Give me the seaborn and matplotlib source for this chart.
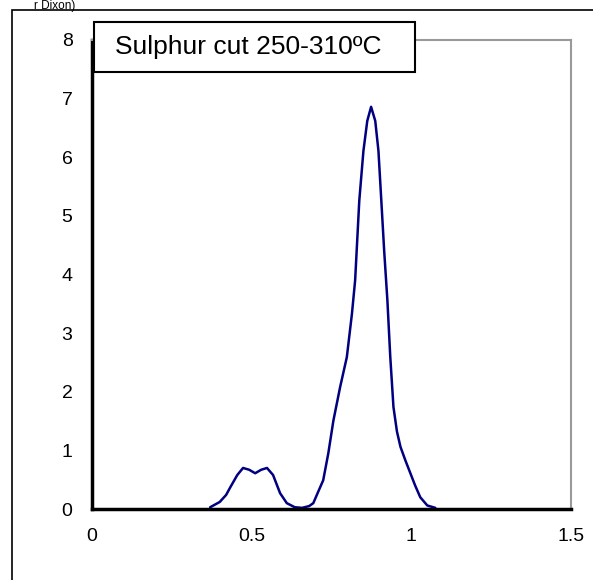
import matplotlib
matplotlib.use("Agg")
import matplotlib.pyplot as plt
import seaborn as sns
import pandas as pd
from matplotlib.patches import Rectangle

# Data
x_vals = [0.37, 0.40, 0.420, 0.433, 0.455, 0.473, 0.492, 0.511, 0.530, 0.548,
          0.567, 0.589, 0.610, 0.635, 0.658, 0.680, 0.693, 0.708, 0.724, 0.740,
          0.756, 0.777, 0.798, 0.814, 0.824, 0.837, 0.850, 0.862, 0.874, 0.887,
          0.897, 0.906, 0.915, 0.925, 0.934, 0.944, 0.955, 0.966, 0.982, 0.997,
          1.012, 1.028, 1.050, 1.075]
y_vals = [0.03, 0.12, 0.24, 0.37, 0.58, 0.70, 0.67, 0.61, 0.67, 0.70,
          0.58, 0.27, 0.10, 0.03, 0.02, 0.05, 0.10, 0.29, 0.49, 0.95,
          1.51, 2.08, 2.59, 3.33, 3.90, 5.26, 6.11, 6.62, 6.86, 6.62,
          6.11, 5.26, 4.40, 3.56, 2.60, 1.74, 1.32, 1.06, 0.82, 0.61,
          0.40, 0.20, 0.06, 0.02]
x_ticks = [0, 0.5, 1, 1.5]
x_tick_labels = ["0", "0.5", "1", "1.5"]
y_ticks = [0, 1, 2, 3, 4, 5, 6, 7, 8]
title_text = "Sulphur cut 250-310ºC"
corner_text = "r Dixon)"

df = pd.DataFrame({"x": x_vals, "y": y_vals})

sns.set_theme(style="white")
plt.rcParams['font.family'] = ['Liberation Sans', 'DejaVu Sans']

W, H = 593, 580
fig = plt.figure(figsize=(W / 100, H / 100), dpi=100)
ax = fig.add_axes([92 / W, 1 - 509 / H, (571 - 92) / W, (509 - 40) / H])

sns.lineplot(data=df, x="x", y="y", ax=ax, color="#000080", linewidth=1.8,
             sort=False, estimator=None)

ax.set_xlim(0, 1.5)
ax.set_ylim(0, 8)
ax.set_xticks(x_ticks)
ax.set_xticklabels(x_tick_labels)
ax.set_yticks(y_ticks)
ax.set_xlabel("")
ax.set_ylabel("")
ax.tick_params(axis="both", which="both", direction="out", length=5, width=1,
               color="black", labelsize=14, labelcolor="black")
ax.tick_params(axis="x", pad=9)
ax.tick_params(axis="y", pad=9)

for side in ["left", "bottom"]:
    ax.spines[side].set_color("black")
    ax.spines[side].set_linewidth(2.5)
for side in ["top", "right"]:
    ax.spines[side].set_color("#999999")
    ax.spines[side].set_linewidth(1.5)

# Outer frame (left and top edges visible)
fig.patches.append(Rectangle((12 / W, -0.05), 1.2, 1 - 10 / H + 0.05,
                             transform=fig.transFigure, fill=False,
                             edgecolor="black", linewidth=1.2))

# Title box
fig.patches.append(Rectangle((94 / W, 1 - 72 / H), (415 - 94) / W, (72 - 22) / H,
                             transform=fig.transFigure, facecolor="white",
                             edgecolor="black", linewidth=1.5, zorder=5))
fig.text(115 / W, 1 - 47 / H, title_text, fontsize=19, color="black",
         ha="left", va="center", zorder=6)

fig.text(75 / W, 1 - 0.5 / H, corner_text, fontsize=8.5, color="black",
         ha="right", va="top")

fig.savefig("out.png", dpi=100)
